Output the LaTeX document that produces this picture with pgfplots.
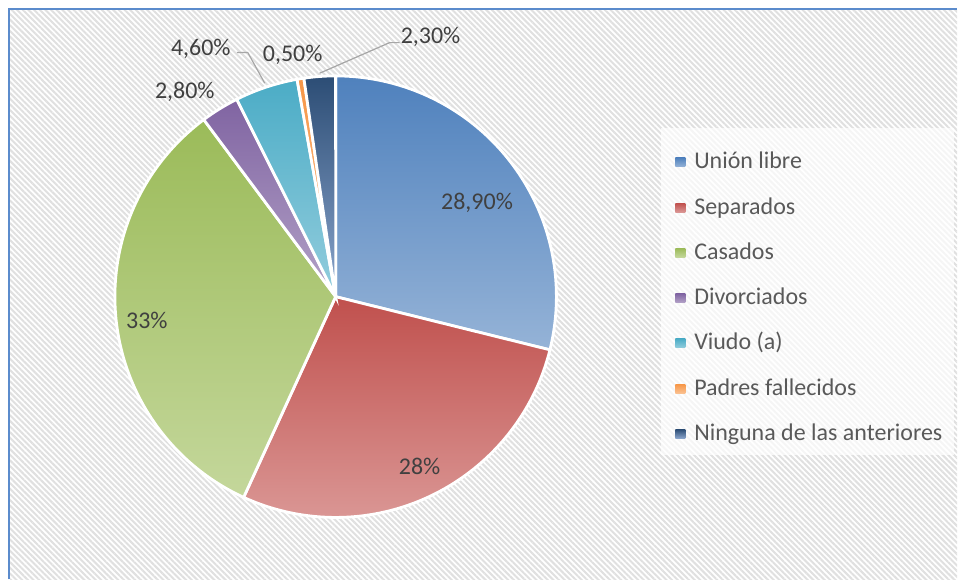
\documentclass[border=0pt]{standalone}
\usepackage{fontspec}
\setmainfont{Carlito}
\usepackage{pgfplots}
\pgfplotsset{compat=1.18}
\usetikzlibrary{patterns.meta}

\definecolor{uT}{HTML}{4F81BD}\definecolor{uB}{HTML}{95B3D7}
\definecolor{sT}{HTML}{C0504D}\definecolor{sB}{HTML}{DA9694}
\definecolor{cT}{HTML}{9BBB59}\definecolor{cB}{HTML}{C4D79B}
\definecolor{dT}{HTML}{8064A2}\definecolor{dB}{HTML}{B3A2C7}
\definecolor{vT}{HTML}{4BACC6}\definecolor{vB}{HTML}{93CDDD}
\definecolor{pT}{HTML}{F79646}\definecolor{pB}{HTML}{FAC090}
\definecolor{nT}{HTML}{2C4D75}\definecolor{nB}{HTML}{8AA5CC}
\definecolor{frame}{RGB}{91,139,204}
\definecolor{lbl}{HTML}{404040}
\definecolor{leg}{HTML}{595959}
\definecolor{lead}{HTML}{A6A6A6}
\definecolor{hatch}{HTML}{E0E0E0}

% #1 cumulative start (%), #2 cumulative end (%), #3 top colour, #4 bottom colour
\newcommand{\pieslice}[4]{%
  \addplot[draw=white, line width=1.4pt, top color=#3, bottom color=#4,
    domain={90-#1*3.6/1.001}:{90-#2*3.6/1.001}, samples=90, variable=\t]
    ({336+221*cos(\t)}, {283+221*sin(\t)}) -- (axis cs:336,283) -- cycle;
}

\begin{document}
\begin{tikzpicture}
\begin{axis}[
  scale only axis, width=479pt, height=290pt,
  xmin=0, xmax=958, ymin=0, ymax=580,
  hide axis, clip=false,
  legend cell align=left,
  legend image code/.code={\path[#1, draw=none] (0pt,-2.25pt) rectangle (5pt,2.25pt);},
  legend style={at={(axis cs:676,429)}, anchor=north west, draw=none, fill=none,
    inner sep=0pt, outer sep=0pt, row sep=11.15pt, column sep=4.5pt,
    font=\fontsize{12}{14}\selectfont, text=leg,
    nodes={inner sep=0pt, text height=9pt, text depth=2.5pt}},
]
% background
\fill[white] (axis cs:0,0) rectangle (axis cs:958,580);
\fill[pattern={Lines[angle=-45,distance=2pt,line width=1pt]}, pattern color=hatch]
  (axis cs:10,0) rectangle (axis cs:958,570);
\fill[white, opacity=0.7] (axis cs:662,125) rectangle (axis cs:955,452);
\draw[frame, line width=1pt] (axis cs:9,0) -- (axis cs:9,571) -- (axis cs:958,571);

% slices: values 28.9, 28, 33, 2.8, 4.6, 0.5, 2.3 (cumulative)
\pieslice{0}{28.9}{uT}{uB}
\addlegendentry{Unión libre}
\pieslice{28.9}{56.9}{sT}{sB}
\addlegendentry{Separados}
\pieslice{56.9}{89.9}{cT}{cB}
\addlegendentry{Casados}
\pieslice{89.9}{92.7}{dT}{dB}
\addlegendentry{Divorciados}
\pieslice{92.7}{97.3}{vT}{vB}
\addlegendentry{Viudo (a)}
\pieslice{97.3}{97.8}{pT}{pB}
\addlegendentry{Padres fallecidos}
\pieslice{97.8}{100.1}{nT}{nB}
\addlegendentry{Ninguna de las anteriores}

% leader lines
\draw[lead, line width=0.6pt] (axis cs:237,527.5) -- (axis cs:248,527.5) -- (axis cs:265,496.7);
\draw[lead, line width=0.6pt] (axis cs:400,537.3) -- (axis cs:390,537.3) -- (axis cs:320,506.7);

% data labels
\begin{scope}[every node/.style={anchor=base, inner sep=0pt, text=lbl, font=\fontsize{12}{14}\selectfont}]
\node at (axis cs:477.5,370) {28,90\%};
\node at (axis cs:420,105) {28\%};
\node at (axis cs:147,251) {33\%};
\node at (axis cs:185,481) {2,80\%};
\node at (axis cs:201,524) {4,60\%};
\node at (axis cs:293,518.3) {0,50\%};
\node at (axis cs:431,536.7) {2,30\%};
\end{scope}
\end{axis}
\end{tikzpicture}
\end{document}
